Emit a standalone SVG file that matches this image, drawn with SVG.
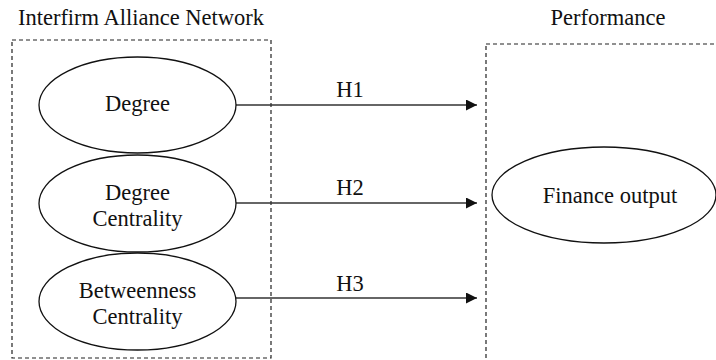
<svg xmlns="http://www.w3.org/2000/svg" width="716" height="360" viewBox="0 0 716 360">
<style>
text{font-family:"Liberation Serif","Times New Roman",serif;font-size:22.5px;fill:#111;text-anchor:middle}
.box{fill:none;stroke:#222;stroke-width:1.2;stroke-dasharray:4 3}
.node{fill:#fff;stroke:#111;stroke-width:1.3}
.edge{stroke:#333;stroke-width:1.5;fill:none;marker-end:url(#arr)}
</style>
<defs>
<marker id="arr" markerWidth="11" markerHeight="11" refX="11" refY="5.5" orient="auto" markerUnits="userSpaceOnUse">
<path d="M0,0 L11,5.5 L0,11 Z" fill="#111"/>
</marker>
</defs>
<rect width="716" height="360" fill="#fff"/>
<g id="group-network">
<rect class="box" x="12" y="40" width="259" height="318"/>
<text x="141" y="25">Interfirm Alliance Network</text>
</g>
<g id="group-performance">
<rect class="box" x="486" y="44" width="240" height="330"/>
<text x="608" y="25">Performance</text>
</g>
<g id="connectors">
<line class="edge" x1="236" y1="105" x2="477" y2="105"/>
<line class="edge" x1="236" y1="203" x2="477" y2="203"/>
<line class="edge" x1="236" y1="298" x2="477" y2="298"/>
<text x="350" y="97">H1</text>
<text x="350" y="195">H2</text>
<text x="350" y="291">H3</text>
</g>
<g id="node-degree">
<ellipse class="node" cx="137.5" cy="105" rx="98.5" ry="48"/>
<text x="137.5" y="111">Degree</text>
</g>
<g id="node-degree-centrality">
<ellipse class="node" cx="137.5" cy="203.5" rx="98.5" ry="48.5"/>
<text x="137.5" y="200">Degree</text>
<text x="137.5" y="226">Centrality</text>
</g>
<g id="node-betweenness">
<ellipse class="node" cx="137.5" cy="301.5" rx="98.5" ry="48.5"/>
<text x="137.5" y="298">Betweenness</text>
<text x="137.5" y="324">Centrality</text>
</g>
<g id="node-finance">
<ellipse class="node" cx="604" cy="195" rx="112" ry="48"/>
<text x="610" y="203">Finance output</text>
</g>
</svg>
